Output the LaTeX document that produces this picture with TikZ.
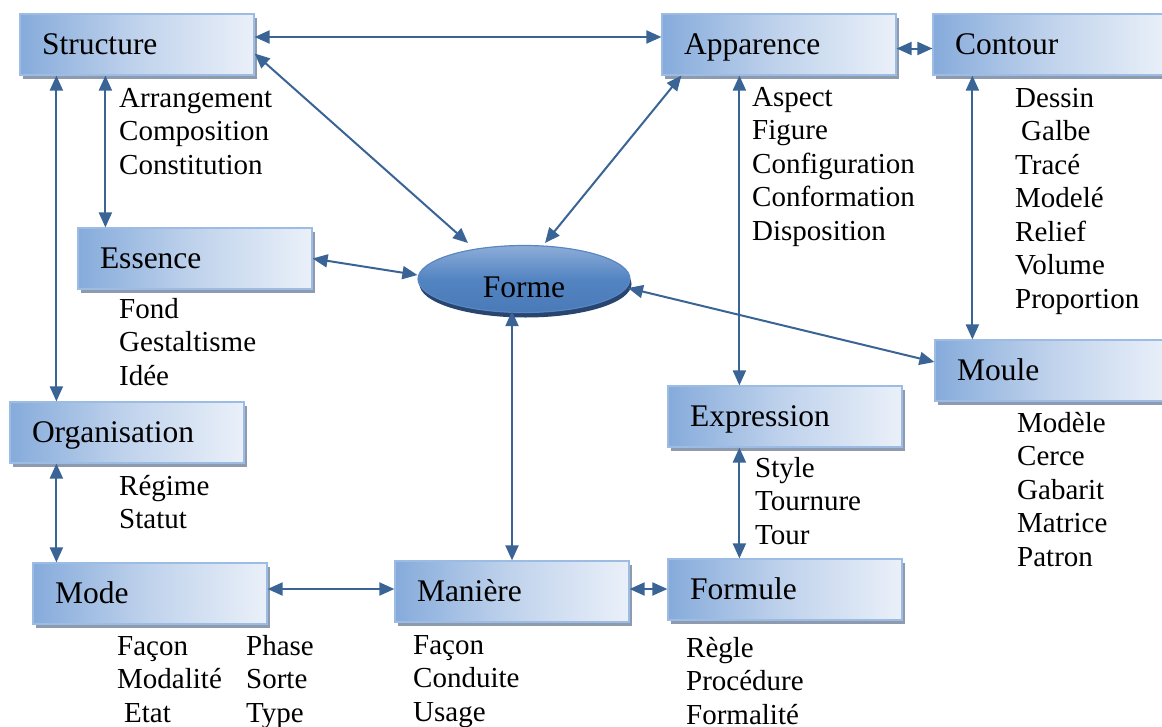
\documentclass[tikz,border=0pt]{standalone}
\usepackage{fontspec}
\setmainfont{Liberation Serif}
\usetikzlibrary{arrows.meta,shadows,shapes.geometric}
\definecolor{boxL}{HTML}{86ABDB}
\definecolor{boxM}{HTML}{C0D3EC}
\definecolor{boxR}{HTML}{EAF0F9}
\definecolor{boxB}{HTML}{9DBCE3}
\definecolor{shd}{HTML}{8E9AAE}
\definecolor{linkc}{HTML}{3A6496}
\definecolor{fTop}{HTML}{8DADD8}
\definecolor{fMid}{HTML}{5384C2}
\definecolor{fBot}{HTML}{4A7AB8}
\definecolor{fBrd}{HTML}{5A87C2}
\definecolor{fShd}{HTML}{284570}
\newcommand\mylist[4]{\foreach \t [count=\i] in {#4} \node[itemtext] (#1\i) at (#2,{#3+33.5*(\i-1)}) {\t};}
\begin{document}
\begin{tikzpicture}[x=1pt,y=-1pt,
  box/.style={draw=boxB, line width=1.2pt, left color=boxL, right color=boxR, middle color=boxM,
    minimum width=234pt, minimum height=61pt, inner xsep=22pt, inner ysep=0pt,
    text width=190pt, align=left, text height=20pt, text depth=0pt,
    font=\fontsize{31.5}{36}\selectfont,
    drop shadow={shadow xshift=3pt, shadow yshift=-4pt, fill=shd, opacity=1}},
  itemtext/.style={anchor=base west, inner sep=0pt, font=\fontsize{29}{33}\selectfont},
  link/.style={draw=linkc, line width=2pt, {Triangle[length=15pt,width=13pt]}-{Triangle[length=15pt,width=13pt]}},
  formestyle/.style={ellipse, draw=fBrd, line width=1.2pt, top color=fTop, bottom color=fBot, middle color=fMid,
    minimum width=212pt, minimum height=67pt, inner sep=0pt, text height=36pt, text depth=0pt,
    font=\fontsize{31.5}{36}\selectfont,
    drop shadow={shadow xshift=1.5pt, shadow yshift=-5pt, fill=fShd, opacity=1}}
]
\useasboundingbox (0,0) rectangle (1162,726);
\clip (0,0) rectangle (1162,726);
\fill[white] (0,0) rectangle (1162,726);

% boxes
\node[box] (structure) at (137,44.5) {Structure};
\node[box] (apparence) at (779,44.5) {Apparence};
\node[box] (contour) at (1050,44.5) {Contour};
\node[box] (essence) at (195,258.5) {Essence};
\node[box] (organisation) at (127,432.5) {Organisation};
\node[box] (mode) at (150,593.5) {Mode};
\node[box] (maniere) at (512,591.5) {Manière};
\node[box] (formule) at (785,589.5) {Formule};
\node[box] (expression) at (785,416.5) {Expression};
\node[box] (moule) at (1052,370.5) {Moule};
\node[formestyle] (forme) at (524,279) {Forme};

% lists
\mylist{lstruct}{119}{107}{Arrangement,Composition,Constitution}
\mylist{lapp}{752}{106}{Aspect,Figure,Configuration,Conformation,Disposition}
\mylist{lcont}{1015}{107}{Dessin,\hspace{6pt}Galbe,Tracé,Modelé,Relief,Volume,Proportion}
\mylist{less}{119}{318}{Fond,Gestaltisme,Idée}
\mylist{lorg}{119}{495}{Régime,Statut}
\mylist{lmoule}{1017}{432}{Modèle,Cerce,Gabarit,Matrice,Patron}
\mylist{lexpr}{755}{477}{Style,Tournure,Tour}
\mylist{lmodea}{117}{655}{Façon,Modalité,\hspace{7pt}Etat}
\mylist{lmodeb}{246}{655}{Phase,Sorte,Type}
\mylist{lman}{413}{654}{Façon,Conduite,Usage}
\mylist{lform}{686}{657}{Règle,Procédure,Formalité}

% connectors
\draw[link] ([yshift=7.5pt]structure.east) -- ([yshift=7.5pt]apparence.west);
\draw[link] ([yshift=-9pt]structure.east) -- ([xshift=-56pt,yshift=36pt]forme.center);
\draw[link] ([xshift=20pt]apparence.south west) -- ([xshift=21pt,yshift=36pt]forme.center);
\draw[link] ([yshift=-4pt]apparence.east) -- ([yshift=-4pt]contour.west);
\draw[link] ([xshift=86pt]structure.south west) -- ([xshift=28pt]essence.north west);
\draw[link] ([xshift=37pt]structure.south west) -- ([xshift=47pt]organisation.north west);
\draw[link] (essence.east) -- ([yshift=4pt]forme.west);
\draw[link] ([xshift=47pt]organisation.south west) -- ([xshift=24pt]mode.north west);
\draw[link] ([yshift=4.5pt]mode.east) -- ([yshift=2.5pt]maniere.west);
\draw[link] ([xshift=-12pt,yshift=2pt]forme.south) -- (maniere.north);
\draw[link] ([yshift=2.5pt]maniere.east) -- ([yshift=0.5pt]formule.west);
\draw[link] ([xshift=78pt]apparence.south west) -- ([xshift=72pt]expression.north west);
\draw[link] ([xshift=72pt]expression.south west) -- ([xshift=72pt]formule.north west);
\draw[link] ([xshift=40pt]contour.south west) -- ([xshift=38pt]moule.north west);
\draw[link] ([yshift=8.5pt]moule.west) -- ([xshift=104pt,yshift=-9pt]forme.center);
\end{tikzpicture}
\end{document}
